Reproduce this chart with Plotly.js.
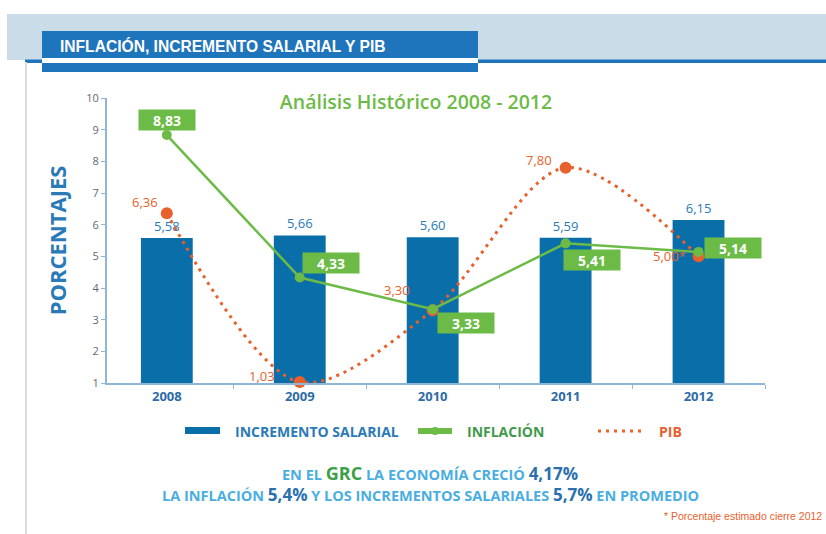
<!DOCTYPE html>
<html>
<head>
<meta charset="utf-8">
<script src="https://cdn.plot.ly/plotly-3.0.1.min.js"></script>
<style>html,body{margin:0;padding:0;background:#fff;}#chart{width:826px;height:534px;}</style>
</head>
<body>
<div id="chart"></div>
<script>
// ---- data ----
const years = ['2008', '2009', '2010', '2011', '2012'];
const incrementoSalarial = [5.58, 5.66, 5.60, 5.59, 6.15];
const inflacion = [8.83, 4.33, 3.33, 5.41, 5.14];
const pib = [6.36, 1.03, 3.30, 7.80, 5.00];
const pibNotes = ['', '', '', '', '*'];
const yTicks = [1, 2, 3, 4, 5, 6, 7, 8, 9, 10];

// ---- layout helpers (pixel -> paper) ----
const W = 826, H = 534, ML = 107, MR = 61, MT = 98, MB = 151;
const PW = W - ML - MR, PH = H - MT - MB;
const px = x => (x - ML) / PW;
const py = y => (H - MB - y) / PH;
const fmt = v => v.toFixed(2).replace('.', ',');

const BLUE = '#0a6ea9', GREEN = '#6cbb46', ORANGE = '#e8602c';
const HEAD = '#1f75bc';
const FONT = 'Open Sans, Lato, sans-serif';

const traces = [
  {
    type: 'bar', x: years, y: incrementoSalarial, name: 'INCREMENTO SALARIAL',
    marker: {color: BLUE}, width: 0.39,
    texttemplate: '%{y:.2f}', textposition: 'outside', cliponaxis: false,
    textfont: {color: '#2a7ab8', size: 13, family: FONT},
    hoverinfo: 'skip', showlegend: false
  },
  {
    type: 'scatter', mode: 'lines+markers', x: years, y: pib, name: 'PIB',
    line: {color: ORANGE, width: 3, dash: '3px,5px', shape: 'spline', smoothing: 0.9},
    marker: {color: ORANGE, size: 12}, cliponaxis: false, showlegend: false
  },
  {
    type: 'scatter', mode: 'lines+markers', x: years, y: inflacion, name: 'INFLACIÓN',
    line: {color: GREEN, width: 2.5},
    marker: {color: GREEN, size: 10}, cliponaxis: false, showlegend: false
  }
];

const annotations = [];
// inflation value boxes
const infShift = [[0, 15], [31, 15], [33, -14], [26, -17], [34, 4]];
inflacion.forEach((v, i) => annotations.push({
  x: i, y: v, xref: 'x', yref: 'y', text: '<b>' + fmt(v) + '</b>', showarrow: false,
  xshift: infShift[i][0], yshift: infShift[i][1], bgcolor: GREEN, width: 52, height: 16, borderpad: 2,
  font: {color: '#ffffff', size: 14, family: FONT}
}));
// PIB value labels
const pibShift = [[-22, 11], [-38, 6], [-36, 20], [-27, 8], [-29, 0]];
pib.forEach((v, i) => annotations.push({
  x: i, y: v, xref: 'x', yref: 'y', text: fmt(v) + pibNotes[i], showarrow: false,
  xshift: pibShift[i][0], yshift: pibShift[i][1],
  font: {color: ORANGE, size: 13, family: FONT}
}));
// header
annotations.push({xref: 'paper', yref: 'paper', x: px(58), y: py(46), xanchor: 'left', yanchor: 'middle',
  text: '<b>INFLACIÓN, INCREMENTO SALARIAL Y PIB</b>', showarrow: false,
  font: {color: '#ffffff', size: 15.6, family: 'Liberation Sans Narrow, Liberation Sans, Arial, sans-serif'}});
// legend (manual)
annotations.push({xref: 'paper', yref: 'paper', x: px(233), y: py(431), xanchor: 'left', yanchor: 'middle',
  text: '<b>INCREMENTO SALARIAL</b>', showarrow: false, font: {color: '#2a7ab8', size: 14, family: FONT}});
annotations.push({xref: 'paper', yref: 'paper', x: px(465), y: py(431), xanchor: 'left', yanchor: 'middle',
  text: '<b>INFLACIÓN</b>', showarrow: false, font: {color: '#3f9a4a', size: 14, family: FONT}});
annotations.push({xref: 'paper', yref: 'paper', x: px(657), y: py(431), xanchor: 'left', yanchor: 'middle',
  text: '<b>PIB</b>', showarrow: false, font: {color: ORANGE, size: 14, family: FONT}});
// bottom summary
const lb = '#4aaee2', db = '#2a6fae';
annotations.push({xref: 'paper', yref: 'paper', x: px(430), y: py(473), xanchor: 'center', yanchor: 'middle', showarrow: false,
  text: '<b><span style="color:' + lb + '">EN EL </span><span style="color:#3aa04a;font-size:18px">GRC</span><span style="color:' + lb + '"> LA ECONOMÍA CRECIÓ </span><span style="color:' + db + ';font-size:17px">4,17%</span></b>',
  font: {size: 14.5, family: FONT, color: lb}});
annotations.push({xref: 'paper', yref: 'paper', x: px(430), y: py(495), xanchor: 'center', yanchor: 'middle', showarrow: false,
  text: '<b><span style="color:' + lb + '">LA INFLACIÓN </span><span style="color:' + db + ';font-size:17px">5,4%</span><span style="color:' + lb + '"> Y LOS INCREMENTOS SALARIALES </span><span style="color:' + db + ';font-size:17px">5,7%</span><span style="color:' + lb + '"> EN PROMEDIO</span></b>',
  font: {size: 14.5, family: FONT, color: lb}});
annotations.push({xref: 'paper', yref: 'paper', x: px(824), y: py(516), xanchor: 'right', yanchor: 'middle', showarrow: false,
  text: '* Porcentaje estimado cierre 2012', font: {size: 10.5, family: 'Liberation Sans Narrow, Liberation Sans, sans-serif', color: ORANGE}});

const rect = (x0, y0, x1, y1, color) => ({type: 'rect', xref: 'paper', yref: 'paper', layer: 'below',
  x0: px(x0), x1: px(x1), y0: py(y1), y1: py(y0), fillcolor: color, line: {width: 0}});
const shapes = [
  rect(7, 14, 826, 60, '#c9dce7'),
  rect(25, 59.5, 826, 63, HEAD),
  rect(25, 62, 27, 534, '#d6dee4'),
  rect(42, 31, 478, 58, HEAD),
  rect(42, 58, 478, 63, '#ffffff'),
  rect(42, 63, 478, 72, HEAD),
  // legend swatches
  rect(185, 427, 220, 434, BLUE),
  rect(418, 428, 452, 434, GREEN),
  {type: 'circle', xref: 'paper', yref: 'paper', x0: px(431), x1: px(439), y0: py(435), y1: py(427), fillcolor: GREEN, line: {width: 0}},
  {type: 'line', xref: 'paper', yref: 'paper', x0: px(598), x1: px(644), y0: py(431), y1: py(431), line: {color: ORANGE, width: 3, dash: '3px,5px'}}
];

const layout = {
  width: W, height: H,
  margin: {l: ML, r: MR, t: MT, b: MB},
  paper_bgcolor: '#ffffff', plot_bgcolor: '#ffffff',
  separators: ',.',
  font: {family: FONT},
  title: {text: 'Análisis Histórico 2008 - 2012', font: {color: GREEN, size: 19.5, weight: 600, family: FONT},
    x: 416 / W, xanchor: 'center', xref: 'container', y: 1 - 102 / H, yanchor: 'middle', yref: 'container'},
  xaxis: {type: 'category', range: [-0.45, 4.5], tickson: 'boundaries', ticks: 'outside', ticklen: 4,
    tickcolor: '#8fb6d6', showline: true, linecolor: '#8fb6d6', linewidth: 2, showgrid: false, zeroline: false,
    tickfont: {color: '#2d6ca6', size: 13, weight: 'bold', family: FONT}},
  yaxis: {range: [1, 10], tickvals: yTicks, ticks: 'outside', ticklen: 4, tickcolor: '#8fb6d6',
    showline: true, linecolor: '#8fb6d6', linewidth: 2, showgrid: false, zeroline: false,
    tickfont: {color: '#666666', size: 11, family: FONT},
    title: {text: 'PORCENTAJES', standoff: 14, font: {color: '#2a7ab8', size: 22, weight: 'bold', family: FONT}}},
  showlegend: false,
  annotations: annotations,
  shapes: shapes,
  bargap: 0.6
};

Plotly.newPlot('chart', traces, layout, {displayModeBar: false, staticPlot: true});
</script>
</body>
</html>
